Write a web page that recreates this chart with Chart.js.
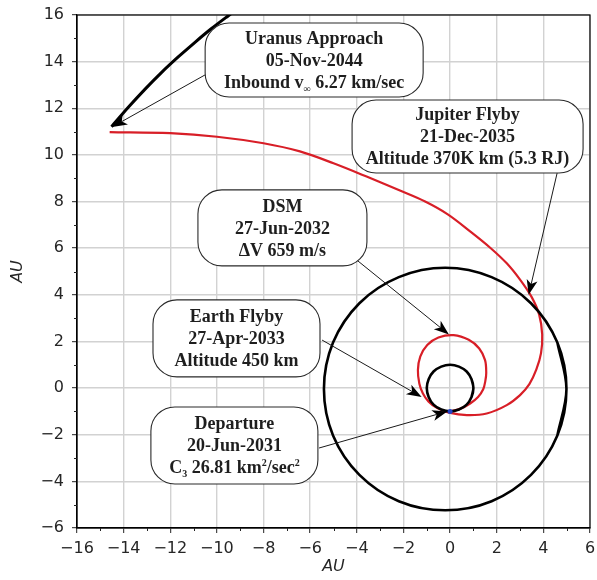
<!DOCTYPE html>
<html>
<head>
<meta charset="utf-8">
<script src="https://cdn.jsdelivr.net/npm/chart.js@4/dist/chart.umd.min.js"></script>
<style>
  html, body { margin: 0; padding: 0; background: #ffffff; }
  canvas { display: block; }
</style>
</head>
<body>
<canvas id="c" width="597" height="580"></canvas>
<script>
// ---- axis ticks (AU) ----
const xTickValues = [-16, -14, -12, -10, -8, -6, -4, -2, 0, 2, 4, 6];
const yTickValues = [-6, -4, -2, 0, 2, 4, 6, 8, 10, 12, 14, 16];
const xMinorTicks = [-15, -13, -11, -9, -7, -5, -3, -1, 1, 3, 5];
const yMinorTicks = [-5, -3, -1, 1, 3, 5, 7, 9, 11, 13, 15];

// ---- heliocentric positions, AU ----
const earthOrbit = [
  [0.92, -0.38], [1, 0], [0.92, 0.38], [0.71, 0.71], [0.38, 0.92], [0, 1],
  [-0.38, 0.92], [-0.71, 0.71], [-0.92, 0.38], [-1, 0], [-0.92, -0.38],
  [-0.71, -0.71], [-0.38, -0.92], [0, -1], [0.38, -0.92], [0.71, -0.71],
  [0.92, -0.38], [1, 0], [0.92, 0.38]
];

const jupiterOrbit = [
  [4.60, -2.03], [4.99, -0.04], [4.60, 1.95], [3.47, 3.64], [1.78, 4.76],
  [-0.21, 5.16], [-2.20, 4.76], [-3.89, 3.64], [-5.02, 1.95], [-5.41, -0.04],
  [-5.02, -2.03], [-3.89, -3.72], [-2.20, -4.85], [-0.21, -5.24], [1.78, -4.85],
  [3.47, -3.72], [4.60, -2.03], [4.99, -0.04], [4.60, 1.95]
];

const uranusArc = [
  [-14.52, 11.21], [-13.8, 12.04], [-13.09, 12.81], [-12.38, 13.53],
  [-11.66, 14.2], [-10.94, 14.83], [-10.23, 15.42], [-9.51, 15.97], [-8.8, 16.5]
];

const spacecraftPath = [
  [0, -1.0], [0.45, -0.88], [0.86, -0.66], [1.2, -0.38], [1.42, -0.05],
  [1.51, 0.3], [1.55, 0.65], [1.5, 1.2], [1.25, 1.7], [0.8, 2.07],
  [0.15, 2.27], [-0.5, 2.17], [-0.98, 1.85], [-1.28, 1.35], [-1.38, 0.77],
  [-1.32, 0.2], [-1.17, -0.22], [-0.93, -0.57], [-0.55, -0.86], [-0.05, -1.05],
  [0.72, -1.16], [1.57, -1.09], [2.43, -0.73], [3.0, -0.3], [3.4, 0.17],
  [3.7, 0.8], [3.9, 1.5], [3.95, 2.3], [3.82, 3.15], [3.5, 3.9],
  [3.0, 4.65], [2.43, 5.35], [1.72, 6.02], [0.86, 6.72], [-0.1, 7.45],
  [-1.07, 8.0], [-2.15, 8.47], [-3.58, 9.07], [-5.0, 9.64], [-6.44, 10.15],
  [-8.0, 10.5], [-10.0, 10.78], [-12.0, 10.93], [-14.6, 10.98]
];

const departurePoint = [[0, -1.0]];

// ---- event call-outs: box centre, arrow tail and arrow tip in AU ----
const callouts = [
  { lines: [[{ t: 'Uranus Approach' }], [{ t: '05-Nov-2044' }],
            [{ t: 'Inbound v' }, { t: '\u221E', k: 'sub' }, { t: ' 6.27 km/sec' }]],
    center: [-5.83, 14.07], w: 218, h: 74, tail: [-10.51, 13.43], tip: [-14.49, 11.2] },
  { lines: [[{ t: 'Jupiter Flyby' }], [{ t: '21-Dec-2035' }], [{ t: 'Altitude 370K km (5.3 RJ)' }]],
    center: [0.75, 10.79], w: 231, h: 73, tail: [4.59, 9.22], tip: [3.37, 4.0] },
  { lines: [[{ t: 'DSM' }], [{ t: '27-Jun-2032' }], [{ t: '\u0394V 659 m/s' }]],
    center: [-7.19, 6.87], w: 169, h: 76, tail: [-3.95, 5.45], tip: [-0.05, 2.3] },
  { lines: [[{ t: 'Earth Flyby' }], [{ t: '27-Apr-2033' }], [{ t: 'Altitude 450 km' }]],
    center: [-9.16, 2.13], w: 167, h: 77, tail: [-5.49, 2.06], tip: [-1.22, -0.38] },
  { lines: [[{ t: 'Departure' }], [{ t: '20-Jun-2031' }],
            [{ t: 'C' }, { t: '3', k: 'sub' }, { t: ' 26.81 km' }, { t: '2', k: 'sup' }, { t: '/sec' }, { t: '2', k: 'sup' }]],
    center: [-9.25, -2.46], w: 167, h: 77, tail: [-5.62, -2.57], tip: [-0.12, -1.0] }
];

const toXY = arr => arr.map(p => ({ x: p[0], y: p[1] }));
const minusFmt = v => (v < 0 ? '\u2212' + Math.abs(v) : String(v));

function roundRectPath(ctx, x, y, w, h, r) {
  r = Math.min(r, h / 2, w / 2);
  ctx.beginPath();
  ctx.moveTo(x + r, y);
  ctx.lineTo(x + w - r, y);
  ctx.arcTo(x + w, y, x + w, y + r, r);
  ctx.lineTo(x + w, y + h - r);
  ctx.arcTo(x + w, y + h, x + w - r, y + h, r);
  ctx.lineTo(x + r, y + h);
  ctx.arcTo(x, y + h, x, y + h - r, r);
  ctx.lineTo(x, y + r);
  ctx.arcTo(x, y, x + r, y, r);
  ctx.closePath();
}

function drawArrow(ctx, x0, y0, x1, y1) {
  const ang = Math.atan2(y1 - y0, x1 - x0);
  const len = 15, half = 5.5, notch = 4;
  const bx = x1 - Math.cos(ang) * (len - notch);
  const by = y1 - Math.sin(ang) * (len - notch);
  ctx.strokeStyle = '#1a1a1a';
  ctx.lineWidth = 1;
  ctx.beginPath();
  ctx.moveTo(x0, y0);
  ctx.lineTo(bx, by);
  ctx.stroke();
  const c = Math.cos(ang), s = Math.sin(ang);
  const backX = x1 - c * len, backY = y1 - s * len;
  ctx.fillStyle = '#000000';
  ctx.beginPath();
  ctx.moveTo(x1, y1);
  ctx.lineTo(backX - s * half, backY + c * half);
  ctx.lineTo(bx, by);
  ctx.lineTo(backX + s * half, backY - c * half);
  ctx.closePath();
  ctx.fill();
}

function drawRichLine(ctx, segs, cx, cy, size, family) {
  const big = 'bold ' + size + 'px ' + family;
  const small = 'bold ' + Math.round(size * 0.58) + 'px ' + family;
  const widths = segs.map(s => { ctx.font = s.k ? small : big; return ctx.measureText(s.t).width; });
  const total = widths.reduce((a, b) => a + b, 0);
  let x = cx - total / 2;
  const baseY = cy + size * 0.33;
  ctx.textAlign = 'left';
  ctx.textBaseline = 'alphabetic';
  segs.forEach((s, i) => {
    ctx.font = s.k ? small : big;
    const dy = s.k === 'sub' ? size * 0.2 : (s.k === 'sup' ? -size * 0.4 : 0);
    ctx.fillText(s.t, x, baseY + dy);
    x += widths[i];
  });
}

const decorPlugin = {
  id: 'decor',
  afterDatasetsDraw(chart) {
    const { ctx, chartArea: a, scales: { x, y } } = chart;
    ctx.save();
    // frame (top and right spines) and minor ticks
    ctx.strokeStyle = '#000000';
    ctx.lineWidth = 1.2;
    ctx.strokeRect(a.left, a.top, a.right - a.left, a.bottom - a.top);
    ctx.lineWidth = 1;
    ctx.strokeStyle = '#222222';
    ctx.beginPath();
    xMinorTicks.forEach(v => { const px = Math.round(x.getPixelForValue(v)) + 0.5; ctx.moveTo(px, a.bottom); ctx.lineTo(px, a.bottom + 3); });
    yMinorTicks.forEach(v => { const py = Math.round(y.getPixelForValue(v)) + 0.5; ctx.moveTo(a.left, py); ctx.lineTo(a.left - 3, py); });
    ctx.stroke();

    // call-outs
    callouts.forEach(c => {
      drawArrow(ctx, x.getPixelForValue(c.tail[0]), y.getPixelForValue(c.tail[1]),
                x.getPixelForValue(c.tip[0]), y.getPixelForValue(c.tip[1]));
    });
    callouts.forEach(c => {
      const cx = x.getPixelForValue(c.center[0]);
      const cy = y.getPixelForValue(c.center[1]);
      roundRectPath(ctx, cx - c.w / 2, cy - c.h / 2, c.w, c.h, 24);
      ctx.fillStyle = '#ffffff';
      ctx.fill();
      ctx.strokeStyle = '#2a2a2a';
      ctx.lineWidth = 1.1;
      ctx.stroke();
      ctx.fillStyle = '#1e1e1e';
      c.lines.forEach((segs, i) => drawRichLine(ctx, segs, cx, cy + (i - 1) * 22, 18, '"Liberation Serif", "Times New Roman", serif'));
    });
    ctx.restore();
  }
};

const tickFont = { family: '"DejaVu Sans", sans-serif', size: 16 };
const titleFont = { family: '"DejaVu Sans", sans-serif', size: 16, style: 'italic' };

new Chart(document.getElementById('c'), {
  type: 'scatter',
  data: {
    datasets: [
      { label: 'Departure', data: toXY(departurePoint), showLine: false,
        pointRadius: 2.5, pointBackgroundColor: '#2342c8', pointBorderWidth: 0 },
      { label: 'Earth', data: toXY(earthOrbit), showLine: true, pointRadius: 0,
        borderColor: '#000000', borderWidth: 2.6, tension: 0.34, fill: false },
      { label: 'Jupiter', data: toXY(jupiterOrbit), showLine: true, pointRadius: 0,
        borderColor: '#000000', borderWidth: 2.6, tension: 0.34, fill: false },
      { label: 'Uranus', data: toXY(uranusArc), showLine: true, pointRadius: 0,
        borderColor: '#000000', borderWidth: 3, tension: 0.3, fill: false },
      { label: 'Trajectory', data: toXY(spacecraftPath), showLine: true, pointRadius: 0,
        borderColor: '#d81e27', borderWidth: 2.2, tension: 0.34, fill: false }
    ]
  },
  options: {
    responsive: false,
    animation: false,
    devicePixelRatio: 1,
    layout: { padding: { left: 0, right: 7, top: 15, bottom: 0 } },
    plugins: { legend: { display: false }, tooltip: { enabled: false } },
    scales: {
      x: {
        type: 'linear', min: -16, max: 6,
        afterBuildTicks: s => { s.ticks = xTickValues.map(v => ({ value: v })); },
        afterFit: s => { s.height = 52; s.paddingLeft = 0; s.paddingRight = 0; },
        ticks: { callback: minusFmt, font: tickFont, color: '#262626', padding: 6, maxRotation: 0, autoSkip: false },
        grid: { color: '#d2d2d2', lineWidth: 1.4, tickColor: '#222222', tickLength: 5, tickWidth: 1 },
        border: { color: '#000000', width: 1.2 },
        title: { display: true, text: 'AU', font: titleFont, color: '#262626', padding: { top: 0, bottom: 4 } }
      },
      y: {
        type: 'linear', min: -6, max: 16,
        afterBuildTicks: s => { s.ticks = yTickValues.map(v => ({ value: v })); },
        afterFit: s => { s.width = 77; s.paddingTop = 0; s.paddingBottom = 0; },
        ticks: { callback: minusFmt, font: tickFont, color: '#262626', padding: 8, autoSkip: false },
        grid: { color: '#d2d2d2', lineWidth: 1.4, tickColor: '#222222', tickLength: 5, tickWidth: 1 },
        border: { color: '#000000', width: 1.2 },
        title: { display: true, text: 'AU', font: titleFont, color: '#262626', padding: { top: 8, bottom: 0 } }
      }
    }
  },
  plugins: [decorPlugin]
});
</script>
</body>
</html>
